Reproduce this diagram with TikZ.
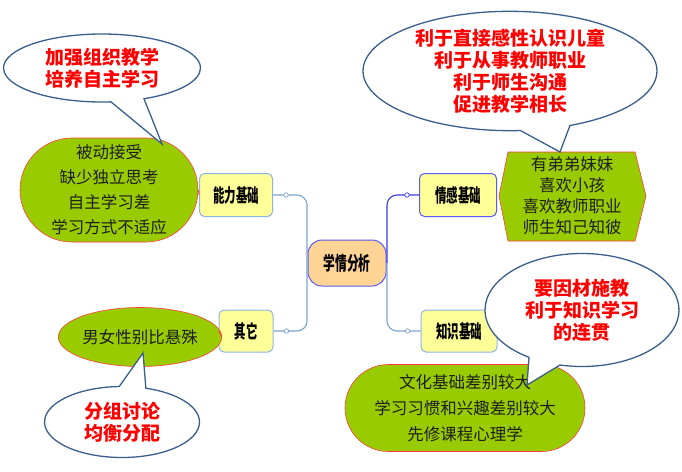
\documentclass[tikz,border=0pt]{standalone}
\usepackage{fontspec}
\setmainfont{Noto Sans CJK SC}
\newfontfamily\labfont[FakeStretch=0.62]{Noto Sans CJK SC}
\usetikzlibrary{shapes.misc,shapes.geometric,shapes.callouts,calc}
\definecolor{lblue}{HTML}{7BA3CF}
\definecolor{dblue}{HTML}{3B3BEF}
\definecolor{callb}{HTML}{3A5F8C}
\definecolor{gfill}{HTML}{99CC00}
\definecolor{gline}{HTML}{FF3B3B}
\definecolor{yfill}{HTML}{FFFF99}
\definecolor{ybord}{HTML}{8EB4E3}
\definecolor{cfill}{HTML}{FFD494}
\definecolor{cbord}{HTML}{5B5BF0}
\definecolor{txt}{HTML}{1E1E1E}
\begin{document}
\begin{tikzpicture}[x=1pt,y=-1pt,
  box/.style={draw=ybord,fill=yfill,rounded corners=5pt,line width=1pt,minimum height=43pt,inner sep=0pt,font=\labfont\fontsize{18.5pt}{20pt}\selectfont\bfseries,text=black},
  hub/.style={draw=cbord,fill=cfill,rounded corners=14pt,line width=1pt,minimum width=78pt,minimum height=46pt,inner sep=0pt,font=\labfont\fontsize{19pt}{20pt}\selectfont\bfseries,text=black},
  gnode/.style={draw=gline,fill=gfill,line width=0.6pt,inner sep=0pt,align=center,text=txt,font=\fontsize{16.5pt}{25pt}\selectfont},
  bubble/.style={ellipse callout,draw=callb,fill=white,line width=1.3pt,inner sep=0pt,callout pointer arc=20,align=center,text=red,font=\fontsize{19pt}{22pt}\selectfont\bfseries},
  trunk/.style={line width=1.1pt,rounded corners=10pt},
  knot/.style={circle,draw=lblue,fill=white,line width=0.7pt,inner sep=0pt,minimum size=4.5pt}
]
\useasboundingbox (0,0) rectangle (682,471);

% nodes of the map
\node[hub] (c) at (347,263) {学情分析};
\node[box,minimum width=73pt] (nl) at (236,195) {能力基础};
\node[box,minimum width=54pt,minimum height=42pt] (oth) at (246,331) {其它};
\node[box,draw=cbord,minimum width=77pt] (emo) at (458,195) {情感基础};
\node[box,minimum width=76pt,minimum height=42pt] (kno) at (459,331) {知识基础};

% trunks
\draw[trunk,lblue] (nl.east) -| ([xshift=-0.5pt]c.west) |- (oth.east);
\draw[trunk,dblue] (emo.west) -| ([xshift=0.5pt]c.east);
\draw[trunk,lblue] (kno.west) -| ([xshift=0.5pt]c.east);
\node[knot] (k1) at ($(nl.east)+(13,0)$) {};
\node[knot] (k2) at ($(oth.east)+(13,0)$) {};
\node[knot,draw=dblue] (k3) at ($(emo.west)+(-12,0)$) {};
\node[knot] (k4) at ($(kno.west)+(-13,0)$) {};

% detail nodes
\node[gnode,rounded rectangle,minimum width=178pt,minimum height=104pt] (g1) at (109,190)
  {被动接受\\缺少独立思考\\自主学习差\\学习方式不适应};
\node[gnode,ellipse,minimum width=149pt,minimum height=59pt] (g2) at (140,337) {男女性别比悬殊};
\draw[gline,line width=0.6pt,fill=gfill] (508,152) -- (635,152) -- (646,196) -- (635,241) -- (508,241) -- (499,196) -- cycle;
\node[gnode,draw=none,fill=none,font=\fontsize{16.5pt}{21pt}\selectfont] (g3) at (572,196)
  {有弟弟妹妹\\喜欢小孩\\喜欢教师职业\\师生知己知彼};
\node[gnode,rounded rectangle,minimum width=240pt,minimum height=87pt,font=\fontsize{16.5pt}{26pt}\selectfont] (g4) at (465,408)
  {文化基础差别较大\\学习习惯和兴趣差别较大\\先修课程心理学};

\draw[gline,line width=0.8pt] (nl.west) -- (g1.east);
\draw[gline,line width=0.8pt] (oth.west) -- (g2.east);

% callouts
\node[bubble,minimum width=197pt,minimum height=68pt,callout absolute pointer={(162,144)}] (b1) at (102,68)
  {加强组织教学\\培养自主学习};
\node[bubble,minimum width=294pt,minimum height=112pt,callout absolute pointer={(560,152)}] (b2) at (510,71)
  {利于直接感性认识儿童\\利于从事教师职业\\利于师生沟通\\促进教学相长};
\node[bubble,minimum width=155pt,minimum height=71pt,callout absolute pointer={(143,353)}] (b3) at (122,422)
  {分组讨论\\均衡分配};
\node[bubble,minimum width=194pt,minimum height=113pt,callout absolute pointer={(527,385)}] (b4) at (582,310)
  {要因材施教\\利于知识学习\\的连贯};
\end{tikzpicture}
\end{document}
